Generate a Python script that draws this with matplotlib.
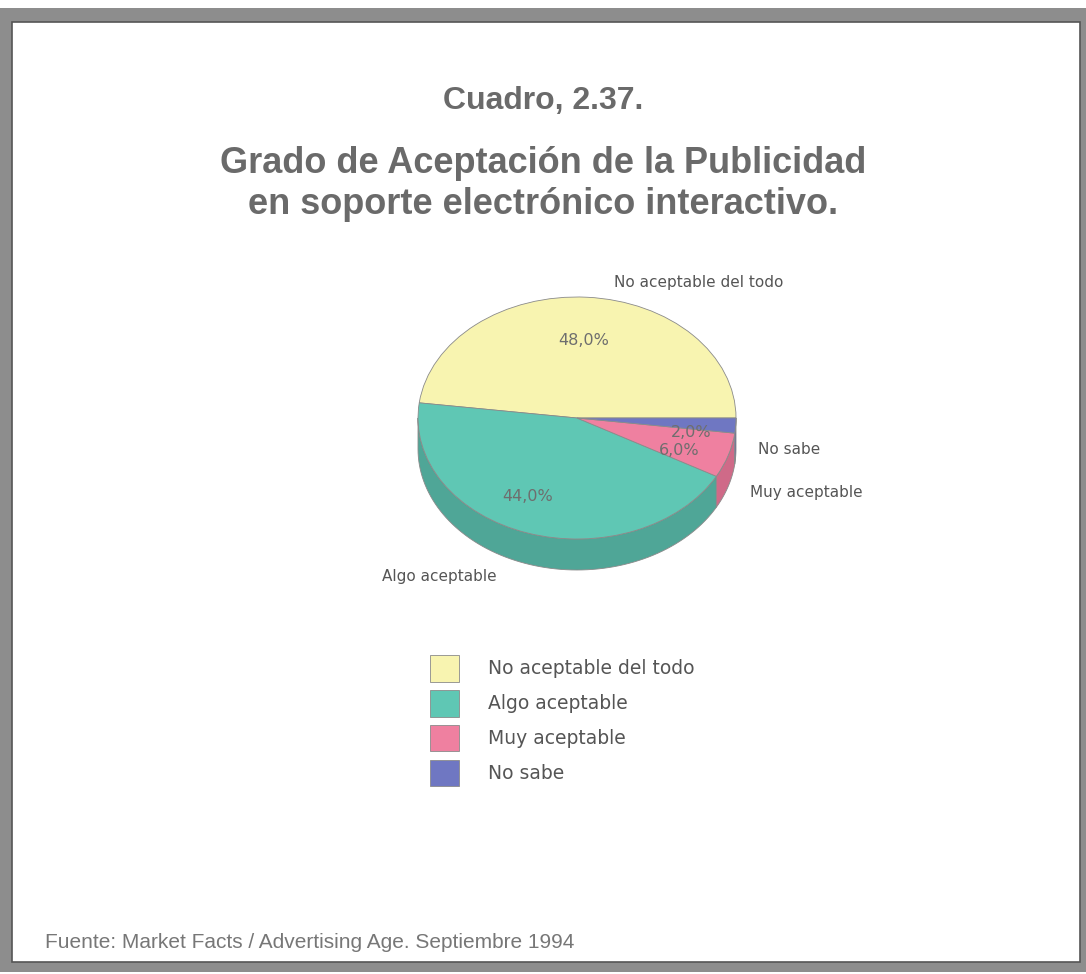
import numpy as np
import matplotlib
matplotlib.use('Agg')
import matplotlib.pyplot as plt
from matplotlib.patches import Rectangle

# datos
categorias = ['No aceptable del todo', 'Algo aceptable', 'Muy aceptable', 'No sabe']
valores = [48.0, 44.0, 6.0, 2.0]
colores = ['#f8f4b0', '#5fc7b4', '#ef80a0', '#6f77c2']
colores_lado = ['#d9d58c', '#4fa697', '#cf6a88', '#5a62a5']

titulo1 = 'Cuadro, 2.37.'
titulo2 = 'Grado de Aceptación de la Publicidad\nen soporte electrónico interactivo.'
fuente = 'Fuente: Market Facts / Advertising Age. Septiembre 1994'

W, H = 1086, 974
fig = plt.figure(figsize=(W / 100, H / 100), dpi=100)
fig.patch.set_facecolor('white')

# fondo en coordenadas de pixel
bg = fig.add_axes([0, 0, 1, 1])
bg.set_xlim(0, W)
bg.set_ylim(H, 0)
bg.axis('off')
bg.add_patch(Rectangle((0, 8), W, 964, facecolor='#8d8d8d', edgecolor='none'))
bg.add_patch(Rectangle((12, 22), 1068, 940, facecolor='white', edgecolor='#555555', linewidth=1.2))

gris = '#6a6a6a'
bg.text(543, 101, titulo1, ha='center', va='center', fontsize=23, fontweight='bold',
        family='Liberation Sans', color=gris)
bg.text(543, 184, titulo2, ha='center', va='center', fontsize=26, fontweight='bold',
        family='Liberation Sans', color=gris, linespacing=1.2)
bg.text(45, 943, fuente, ha='left', va='center', fontsize=15, family='Liberation Sans', color='#777777')

# pastel "3D": elipse con profundidad
x0, x1 = 418, 736
ytop, ymid_bottom, ybot = 297, 539, 570
prof = (ybot - ymid_bottom) / ((ymid_bottom - ytop) / 2)
ax = fig.add_axes([x0 / W, 1 - ybot / H, (x1 - x0) / W, (ybot - ytop) / H])

wedges, textos = ax.pie(valores, colors=colores, startangle=0, counterclock=True, radius=1,
                        wedgeprops=dict(edgecolor='#8a8a8a', linewidth=0.6))
ax.set_aspect('auto')
ax.set_xlim(-1, 1)
ax.set_ylim(-1 - prof, 1)
ax.axis('off')
for w in wedges:
    w.set_clip_on(False)

# lados del pastel (solo la mitad inferior se ve)
inicio = 0.0
for v, c in zip(valores, colores_lado):
    fin = inicio + 360 * v / sum(valores)
    a0, a1 = max(inicio, 180), min(fin, 360)
    if a1 > a0:
        t = np.radians(np.linspace(a0, a1, 80))
        xs = np.concatenate([np.cos(t), np.cos(t[::-1])])
        ys = np.concatenate([np.sin(t), np.sin(t[::-1]) - prof])
        ax.fill(xs, ys, facecolor=c, edgecolor='#8a8a8a', linewidth=0.6, clip_on=False, zorder=0)
    inicio = fin

# porcentajes
pos_pct = [(0.04, 0.64), (-0.31, -0.65), (0.64, -0.27), (0.72, -0.12)]
for v, (px, py) in zip(valores, pos_pct):
    ax.text(px, py, ('%.1f%%' % v).replace('.', ','), ha='center', va='center',
            fontsize=11.5, family='DejaVu Sans', color='#6e6e6e')

# etiquetas externas
lab_kw = dict(fontsize=11, family='DejaVu Sans', color='#555555', va='center')
bg.text(699, 282, categorias[0], ha='center', **lab_kw)
bg.text(758, 450, categorias[3], ha='left', **lab_kw)
bg.text(750, 493, categorias[2], ha='left', **lab_kw)
bg.text(382, 577, categorias[1], ha='left', **lab_kw)

# leyenda
leg = fig.legend(wedges, categorias, loc='upper left', bbox_to_anchor=(430 / W, 1 - 655 / H),
                 frameon=False, prop={'family': 'DejaVu Sans', 'size': 13.5},
                 handlelength=1.55, handleheight=1.8, handletextpad=1.55, labelspacing=0.45,
                 borderpad=0, borderaxespad=0)
for t in leg.get_texts():
    t.set_color('#555555')

fig.savefig('out.png', dpi=100, facecolor=fig.get_facecolor())
